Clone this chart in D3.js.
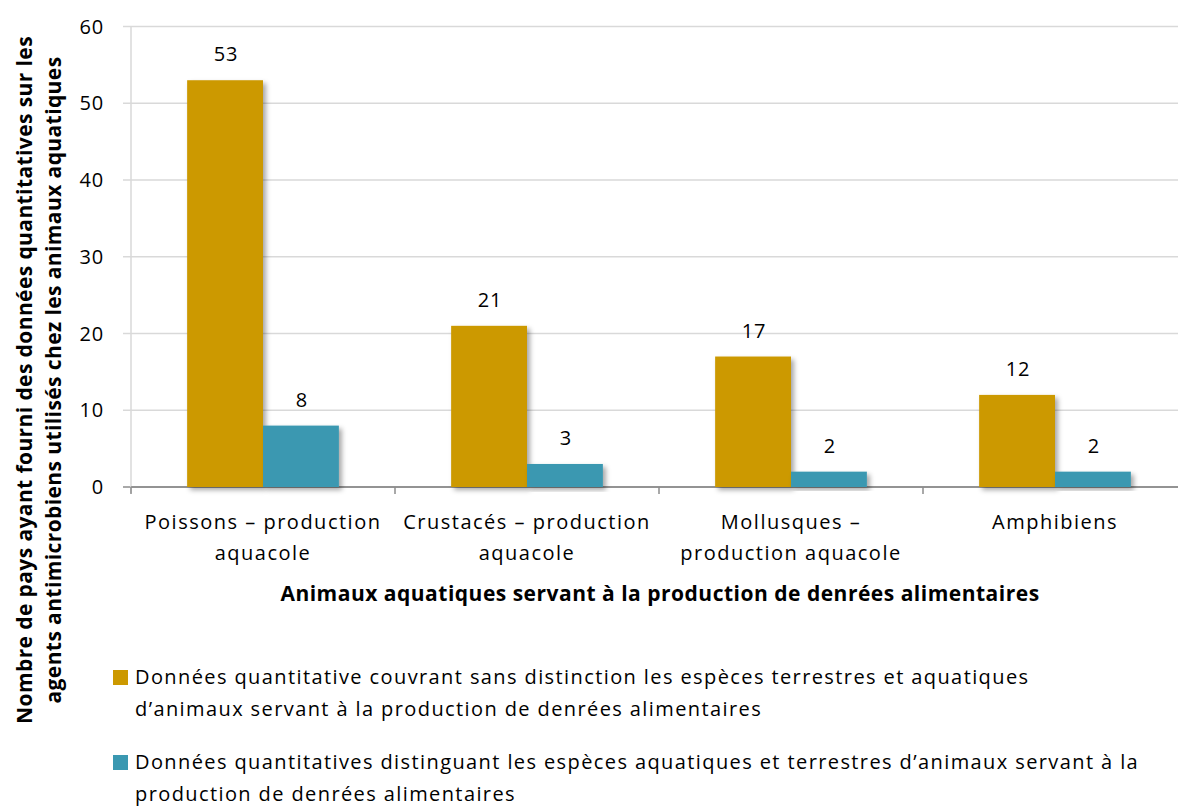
<!DOCTYPE html>
<html>
<head>
<meta charset="utf-8">
<script src="https://cdn.jsdelivr.net/npm/d3@7"></script>
<style>
  body { margin: 0; background: #fff; }
  text { font-family: "Open Sans", sans-serif; fill: #000; }
</style>
</head>
<body>
<div id="chart"></div>
<script>
// chart data
var categories = [
    ["Poissons – production", "aquacole"],
    ["Crustacés – production", "aquacole"],
    ["Mollusques –", "production aquacole"],
    ["Amphibiens"]
];
var seriesNames = [
    ["Données quantitative couvrant sans distinction les espèces terrestres et aquatiques", "d’animaux servant à la production de denrées alimentaires"],
    ["Données quantitatives distinguant les espèces aquatiques et terrestres d’animaux servant à la", "production de denrées alimentaires"]
];
var combined = [53, 21, 17, 12];
var separated = [8, 3, 2, 2];
var yTicks = [0, 10, 20, 30, 40, 50, 60];
var colors = ["#CC9900", "#3A98B1"];

var w = 1178;
var h = 810;
var padLeft = 131, padRight = 1187, padTop = 26.5, padBottom = 487;

var svg = d3.select("#chart")
    .append("svg")
    .attr("width", w)
    .attr("height", h);

var defs = svg.append("defs");
var f = defs.append("filter").attr("id", "shadow")
    .attr("x", "-10%").attr("y", "-10%").attr("width", "130%").attr("height", "130%");
f.append("feDropShadow")
    .attr("dx", 3).attr("dy", 3).attr("stdDeviation", 2.5)
    .attr("flood-color", "#000").attr("flood-opacity", 0.35);

var x0 = d3.scaleBand()
    .domain(d3.range(categories.length))
    .range([padLeft, padRight])
    .paddingInner(0)
    .paddingOuter(0);

var x1 = d3.scaleBand()
    .domain([0, 1])
    .range([0, x0.bandwidth()])
    .paddingOuter(0.74)
    .paddingInner(0);

var y = d3.scaleLinear()
    .domain([0, 60])
    .range([padBottom, padTop]);

// gridlines
svg.append("g")
    .selectAll("line")
    .data(yTicks)
    .enter()
    .append("line")
    .attr("x1", padLeft - 8)
    .attr("x2", padRight)
    .attr("y1", function (d) { return y(d); })
    .attr("y2", function (d) { return y(d); })
    .attr("stroke", function (d) { return d === 0 ? "#8C8C8C" : "#D9D9D9"; })
    .attr("stroke-width", 1.5);

// y axis line
svg.append("line")
    .attr("x1", padLeft).attr("x2", padLeft)
    .attr("y1", padTop).attr("y2", padBottom + 6)
    .attr("stroke", "#D9D9D9").attr("stroke-width", 1.5);

// y tick labels
svg.append("g")
    .selectAll("text")
    .data(yTicks)
    .enter()
    .append("text")
    .attr("x", 104)
    .attr("y", function (d) { return y(d); })
    .attr("dy", "0.35em")
    .attr("text-anchor", "end")
    .style("font-size", "20px")
    .style("letter-spacing", "0.8px")
    .text(function (d) { return d; });

// x category ticks
svg.append("g")
    .selectAll("line")
    .data(d3.range(categories.length + 1))
    .enter()
    .append("line")
    .attr("x1", function (d) { return padLeft + d * x0.step(); })
    .attr("x2", function (d) { return padLeft + d * x0.step(); })
    .attr("y1", padBottom)
    .attr("y2", padBottom + 7)
    .attr("stroke", "#8C8C8C")
    .attr("stroke-width", 1.5);

// x axis line on top of ticks
svg.append("line")
    .attr("x1", padLeft).attr("x2", padRight)
    .attr("y1", padBottom).attr("y2", padBottom)
    .attr("stroke", "#8C8C8C").attr("stroke-width", 1.5);

// bars
var groups = svg.append("g")
    .selectAll("g")
    .data(categories)
    .enter()
    .append("g")
    .attr("transform", function (d, i) { return "translate(" + x0(i) + ",0)"; });

groups.selectAll("rect")
    .data(function (d, i) { return [combined[i], separated[i]]; })
    .enter()
    .append("rect")
    .attr("x", function (d, j) { return x1(j); })
    .attr("y", function (d) { return y(d); })
    .attr("width", x1.bandwidth())
    .attr("height", function (d) { return padBottom - y(d); })
    .attr("fill", function (d, j) { return colors[j]; })
    .attr("filter", "url(#shadow)");

groups.selectAll("text.val")
    .data(function (d, i) { return [combined[i], separated[i]]; })
    .enter()
    .append("text")
    .attr("class", "val")
    .attr("x", function (d, j) { return x1(j) + x1.bandwidth() / 2 + 1; })
    .attr("y", function (d) { return y(d) - 19; })
    .attr("text-anchor", "middle")
    .style("font-size", "20px")
    .style("letter-spacing", "0.8px")
    .text(function (d) { return d; });

// category labels
groups.append("text")
    .attr("text-anchor", "middle")
    .style("font-size", "20px")
    .style("letter-spacing", "1.5px")
    .selectAll("tspan")
    .data(function (d) { return d; })
    .enter()
    .append("tspan")
    .attr("x", x0.bandwidth() / 2)
    .attr("y", function (d, k) { return 529 + k * 31; })
    .text(function (d) { return d; });

// x axis title
svg.append("text")
    .attr("x", 660)
    .attr("y", 601)
    .attr("text-anchor", "middle")
    .style("font-size", "21px")
    .style("font-weight", "bold")
    .style("letter-spacing", "0.5px")
    .text("Animaux aquatiques servant à la production de denrées alimentaires");

// y axis title
var yt = svg.append("text")
    .attr("transform", "translate(0,380) rotate(-90)")
    .attr("text-anchor", "middle")
    .style("font-size", "21px")
    .style("font-weight", "bold")
    .style("letter-spacing", "0.4px");
yt.append("tspan").attr("x", 0).attr("y", 32)
    .text("Nombre de pays ayant fourni des données quantitatives sur les");
yt.append("tspan").attr("x", 0).attr("y", 61)
    .text("agents antimicrobiens utilisés chez les animaux aquatiques");

// legend
var legend = svg.append("g")
    .selectAll("g")
    .data(seriesNames)
    .enter()
    .append("g")
    .attr("transform", function (d, i) { return "translate(113," + (670 + i * 85) + ")"; });

legend.append("rect")
    .attr("width", 15)
    .attr("height", 15)
    .attr("fill", function (d, i) { return colors[i]; });

legend.append("text")
    .style("font-size", "20px")
    .style("letter-spacing", "1.4px")
    .selectAll("tspan")
    .data(function (d) { return d; })
    .enter()
    .append("tspan")
    .attr("x", 22)
    .attr("y", function (d, k) { return 14 + k * 32; })
    .text(function (d) { return d; });
</script>
</body>
</html>
